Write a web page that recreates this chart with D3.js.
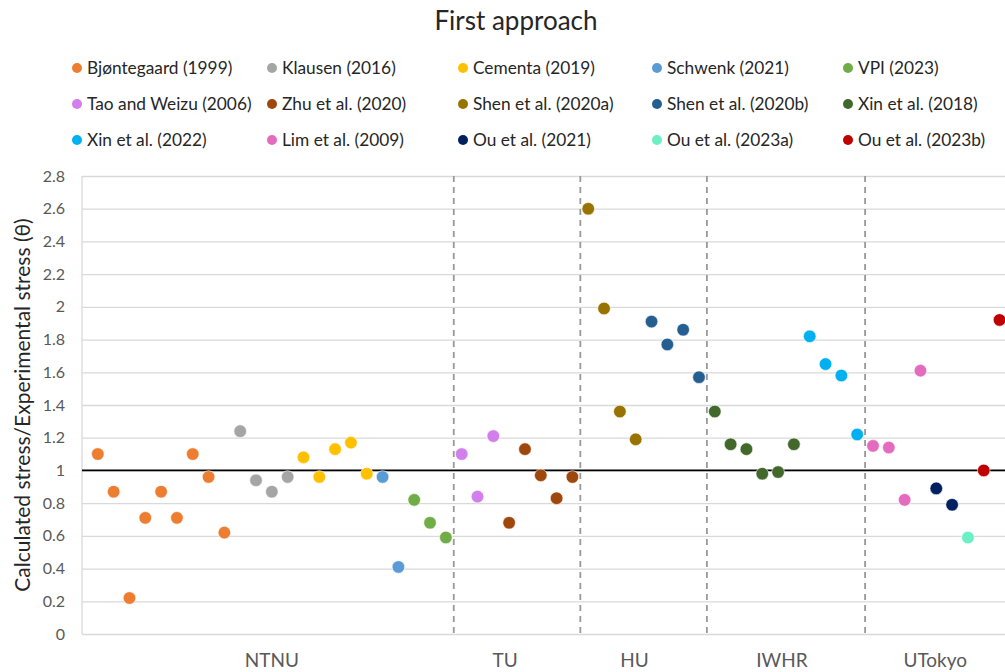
<!DOCTYPE html>
<html>
<head>
<meta charset="utf-8">
<script src="https://cdn.jsdelivr.net/npm/d3@7"></script>
<style>
  html, body { margin: 0; padding: 0; background: #fff; }
  svg { display: block; font-family: Lato, "Open Sans", sans-serif; }
</style>
</head>
<body>
<svg id="chart" width="1005" height="672"></svg>
<script>
// ---------- DATA ----------
const seriesNames = [
  "Bjøntegaard (1999)", "Klausen (2016)", "Cementa (2019)", "Schwenk (2021)", "VPI (2023)",
  "Tao and Weizu (2006)", "Zhu et al. (2020)", "Shen et al. (2020a)", "Shen et al. (2020b)", "Xin et al. (2018)",
  "Xin et al. (2022)", "Lim et al. (2009)", "Ou et al. (2021)", "Ou et al. (2023a)", "Ou et al. (2023b)"
];
const seriesGroup = ["NTNU","NTNU","NTNU","NTNU","NTNU","TU","TU","HU","HU","IWHR","IWHR","UTokyo","UTokyo","UTokyo","UTokyo"];
const bjontegaard = [1.10, 0.87, 0.22, 0.71, 0.87, 0.71, 1.10, 0.96, 0.62];
const klausen     = [1.24, 0.94, 0.87, 0.96];
const cementa     = [1.08, 0.96, 1.13, 1.17, 0.98];
const schwenk     = [0.96, 0.41];
const vpi         = [0.82, 0.68, 0.59];
const taoWeizu    = [1.10, 0.84, 1.21];
const zhu         = [0.68, 1.13, 0.97, 0.83, 0.96];
const shen2020a   = [2.60, 1.99, 1.36, 1.19];
const shen2020b   = [1.91, 1.77, 1.86, 1.57];
const xin2018     = [1.36, 1.16, 1.13, 0.98, 0.99, 1.16];
const xin2022     = [1.82, 1.65, 1.58, 1.22];
const lim         = [1.15, 1.14, 0.82, 1.61];
const ou2021      = [0.89, 0.79];
const ou2023a     = [0.59];
const ou2023b     = [1.00, 1.92];
const seriesValues = [bjontegaard, klausen, cementa, schwenk, vpi, taoWeizu, zhu, shen2020a, shen2020b,
                      xin2018, xin2022, lim, ou2021, ou2023a, ou2023b];
const categories = ["NTNU", "TU", "HU", "IWHR", "UTokyo"];
const yTicks = [0, 0.2, 0.4, 0.6, 0.8, 1, 1.2, 1.4, 1.6, 1.8, 2, 2.2, 2.4, 2.6, 2.8];
const referenceValue = 1;
const titleText = "First approach";
const yTitle = "Calculated stress/Experimental stress (θ)";

// ---------- STYLE ----------
const colors = ["#ED7D31", "#A5A5A5", "#FFC000", "#5B9BD5", "#70AD47",
                "#D17FEB", "#9E480E", "#997300", "#255E91", "#43682B",
                "#00B0F0", "#E46CBE", "#002060", "#6CEFC2", "#C00000"];
const labelNudge = [0, -12, -9, -4, -1];

// ---------- BUILD POINTS ----------
const points = [];
let idx = 1;
seriesValues.forEach((vals, s) => {
  vals.forEach(v => { points.push({ x: idx, y: v, s: s, g: seriesGroup[s] }); idx++; });
});
const nPoints = idx - 1;

const svg = d3.select("#chart");
const plotLeft = 82, plotTop = 176, plotBottom = 634;
const x = d3.scaleLinear().domain([0, nPoints + 1]).range([plotLeft, plotLeft + (nPoints + 1) * 15.82]);
const y = d3.scaleLinear().domain([0, 2.8]).range([plotBottom, plotTop]);

// title
svg.append("text").attr("x", 516).attr("y", 30).attr("text-anchor", "middle")
  .attr("font-size", 26).attr("fill", "#262626").text(titleText);

// legend
const legendCols = [77, 272, 463, 657, 848];
const legendRows = [68, 104, 140];
seriesNames.forEach((name, i) => {
  const cx = legendCols[i % 5], cy = legendRows[Math.floor(i / 5)];
  const g = svg.append("g");
  g.append("circle").attr("cx", cx).attr("cy", cy).attr("r", 5).attr("fill", colors[i]);
  g.append("text").attr("x", cx + 10).attr("y", cy + 6).attr("font-size", 17.3)
    .attr("fill", "#262626").text(name);
});

// gridlines
const grid = svg.append("g").attr("transform", `translate(${plotLeft},0)`)
  .call(d3.axisLeft(y).tickValues(yTicks).tickSize(-(1005 - plotLeft)).tickFormat(""));
grid.select(".domain").remove();
grid.selectAll("line").attr("stroke", "#d9d9d9").attr("stroke-width", 1.3);

// left axis line
svg.append("line").attr("x1", plotLeft).attr("x2", plotLeft).attr("y1", plotTop).attr("y2", plotBottom)
  .attr("stroke", "#d9d9d9").attr("stroke-width", 1.3);

// y tick labels
const yAxis = svg.append("g").attr("transform", `translate(${plotLeft - 17},0)`)
  .call(d3.axisLeft(y).tickValues(yTicks).tickSize(0).tickPadding(0)
    .tickFormat(d => String(+d.toFixed(1))));
yAxis.select(".domain").remove();
yAxis.selectAll("text").attr("font-size", 16).attr("fill", "#595959")
  .attr("font-family", "Lato, 'Open Sans', sans-serif");

// y title
svg.append("text").attr("transform", `translate(30,405) rotate(-90)`).attr("text-anchor", "middle")
  .attr("font-size", 21).attr("fill", "#262626").text(yTitle);

// group boundaries
const groupBounds = [];
const groupCenters = categories.map(c => {
  const xs = points.filter(p => p.g === c).map(p => p.x);
  return { name: c, min: d3.min(xs), max: d3.max(xs) };
});
groupCenters.slice(0, -1).forEach(gc => groupBounds.push(gc.max + 0.5));
svg.append("g").selectAll("line").data(groupBounds).join("line")
  .attr("x1", d => x(d)).attr("x2", d => x(d)).attr("y1", plotTop).attr("y2", plotBottom)
  .attr("stroke", "#999").attr("stroke-width", 1.8).attr("stroke-dasharray", "6,5");

// category labels
svg.append("g").selectAll("text").data(groupCenters).join("text")
  .attr("x", (d, i) => x((d.min + d.max) / 2) + labelNudge[i]).attr("y", 667)
  .attr("text-anchor", "middle").attr("font-size", 19).attr("fill", "#595959").text(d => d.name);

// reference line
svg.append("line").attr("x1", plotLeft).attr("x2", 1005).attr("y1", y(referenceValue)).attr("y2", y(referenceValue))
  .attr("stroke", "#000").attr("stroke-width", 1.8);

// points
svg.append("g").selectAll("circle").data(points).join("circle")
  .attr("cx", d => x(d.x)).attr("cy", d => y(d.y)).attr("r", 6.3)
  .attr("fill", d => colors[d.s]).attr("stroke", "#fff").attr("stroke-width", 0.6);
</script>
</body>
</html>
